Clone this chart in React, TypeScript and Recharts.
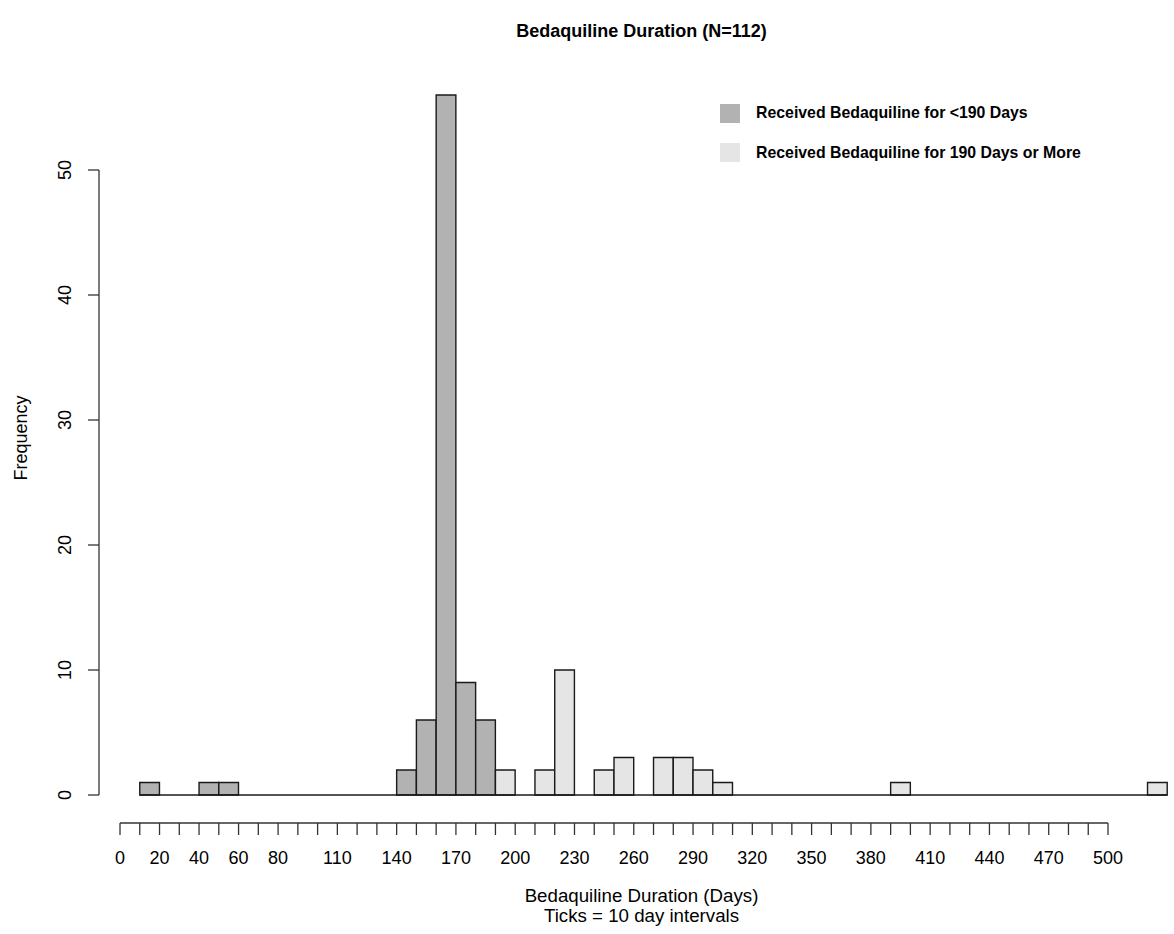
import React from 'react';
import { ComposedChart, Bar, Cell, XAxis, YAxis, ReferenceLine, Legend } from 'recharts';

// Histogram bins (start of each 10-day bin) and counts
const BIN_START = [
  10, 20, 30, 40, 50, 60, 70, 80, 90, 100, 110, 120, 130, 140, 150, 160, 170, 180, 190, 200,
  210, 220, 230, 240, 250, 260, 270, 280, 290, 300, 310, 320, 330, 340, 350, 360, 370, 380, 390, 400,
  410, 420, 430, 440, 450, 460, 470, 480, 490, 500, 510, 520,
];
const COUNTS = [
  1, 0, 0, 1, 1, 0, 0, 0, 0, 0, 0, 0, 0, 2, 6, 56, 9, 6, 2, 0,
  2, 10, 0, 2, 3, 0, 3, 3, 2, 1, 0, 0, 0, 0, 0, 0, 0, 0, 1, 0,
  0, 0, 0, 0, 0, 0, 0, 0, 0, 0, 0, 1,
];
const BIN_WIDTH = 10;
const THRESHOLD = 190;

const X_TICKS = [
  0, 10, 20, 30, 40, 50, 60, 70, 80, 90, 100, 110, 120, 130, 140, 150, 160, 170, 180, 190, 200,
  210, 220, 230, 240, 250, 260, 270, 280, 290, 300, 310, 320, 330, 340, 350, 360, 370, 380, 390, 400,
  410, 420, 430, 440, 450, 460, 470, 480, 490, 500,
];
const X_LABELS = [0, 20, 40, 60, 80, 110, 140, 170, 200, 230, 260, 290, 320, 350, 380, 410, 440, 470, 500];
const Y_TICKS = [0, 10, 20, 30, 40, 50];

const LEGEND_LABELS = ['Received Bedaquiline for <190 Days', 'Received Bedaquiline for 190 Days or More'];

const TITLE = 'Bedaquiline Duration (N=112)';
const X_TITLE_1 = 'Bedaquiline Duration (Days)';
const X_TITLE_2 = 'Ticks = 10 day intervals';
const Y_TITLE = 'Frequency';

// layout / style
const W = 1174;
const H = 934;
const X_DOMAIN: [number, number] = [-10.63, 533.4];
const Y_DOMAIN: [number, number] = [-2.24, 58.24];
const DARK = '#b2b2b2';
const LIGHT = '#e5e5e5';
const INK = '#1a1a1a';
const AXIS_INK = '#333';
const FONT = '"Liberation Sans", Arial, Helvetica, sans-serif';

const data = BIN_START.map((s, i) => ({ start: s, mid: s + BIN_WIDTH / 2, count: COUNTS[i] }));

const XTick = (props: any) => {
  const { x, payload } = props;
  if (!X_LABELS.includes(payload.value)) return <g />;
  return (
    <text x={x} y={858} textAnchor="middle" dominantBaseline="central" fontSize={18} fontFamily={FONT} fill="#000">
      {payload.value}
    </text>
  );
};

const YTick = (props: any) => {
  const { y, payload } = props;
  const lx = 64.5;
  return (
    <text
      x={lx}
      y={y}
      transform={`rotate(-90 ${lx} ${y})`}
      textAnchor="middle"
      dominantBaseline="central"
      fontSize={18}
      fontFamily={FONT}
      fill="#000"
    >
      {payload.value}
    </text>
  );
};

const LegendContent = () => (
  <div style={{ fontFamily: FONT }}>
    {LEGEND_LABELS.map((label, i) => (
      <div key={label} style={{ display: 'flex', alignItems: 'center', height: 20, marginBottom: i === 0 ? 19.5 : 0 }}>
        <span style={{ display: 'inline-block', width: 20, height: 19, background: i === 0 ? DARK : LIGHT }} />
        <span style={{ marginLeft: 16, fontWeight: 'bold', fontSize: 15.85, color: '#000', whiteSpace: 'nowrap' }}>{label}</span>
      </div>
    ))}
  </div>
);

export default function App() {
  return (
    <div style={{ position: 'absolute', left: 0, top: 0, width: W, height: H, background: '#fff', fontFamily: FONT }}>
      <ComposedChart width={W} height={H} data={data} margin={{ top: 67, right: 0, bottom: 0, left: 0 }}>
        <XAxis
          dataKey="mid"
          type="number"
          domain={X_DOMAIN}
          allowDataOverflow
          ticks={X_TICKS}
          interval={0}
          height={111}
          axisLine={false}
          tickLine={{ stroke: AXIS_INK, strokeWidth: 1.3 }}
          tickSize={12}
          tick={<XTick />}
        />
        <YAxis
          type="number"
          domain={Y_DOMAIN}
          allowDataOverflow
          ticks={Y_TICKS}
          interval={0}
          width={99}
          axisLine={false}
          tickLine={{ stroke: AXIS_INK, strokeWidth: 1.3 }}
          tickSize={11}
          tick={<YTick />}
        />
        <Bar dataKey="count" barSize={19.7} isAnimationActive={false} stroke={INK} strokeWidth={1.4} legendType="none">
          {data.map((d) => (
            <Cell key={d.start} fill={d.start < THRESHOLD ? DARK : LIGHT} />
          ))}
        </Bar>
        <ReferenceLine
          segment={[{ x: BIN_START[0], y: 0 }, { x: BIN_START[BIN_START.length - 1] + BIN_WIDTH, y: 0 }]}
          stroke={INK}
          strokeWidth={1.3}
          ifOverflow="visible"
        />
        <ReferenceLine
          segment={[{ x: X_TICKS[0], y: Y_DOMAIN[0] }, { x: X_TICKS[X_TICKS.length - 1], y: Y_DOMAIN[0] }]}
          stroke={AXIS_INK}
          strokeWidth={1.3}
          ifOverflow="visible"
        />
        <ReferenceLine
          segment={[{ x: X_DOMAIN[0], y: Y_TICKS[0] }, { x: X_DOMAIN[0], y: Y_TICKS[Y_TICKS.length - 1] }]}
          stroke={AXIS_INK}
          strokeWidth={1.3}
          ifOverflow="visible"
        />
        <Legend
          layout="vertical"
          align="center"
          verticalAlign="middle"
          content={<LegendContent />}
          wrapperStyle={{ position: 'absolute', left: 720, top: 103, width: 440, height: 60 }}
        />
        <text x={641.5} y={36.5} textAnchor="middle" fontWeight="bold" fontSize={18} fontFamily={FONT} fill="#000">
          {TITLE}
        </text>
        <text x={641.5} y={902} textAnchor="middle" fontSize={18.7} fontFamily={FONT} fill="#000">
          {X_TITLE_1}
        </text>
        <text x={641.5} y={921.5} textAnchor="middle" fontSize={18.7} fontFamily={FONT} fill="#000">
          {X_TITLE_2}
        </text>
        <text
          x={20.7}
          y={438}
          transform="rotate(-90 20.7 438)"
          textAnchor="middle"
          dominantBaseline="central"
          fontSize={18}
          fontFamily={FONT}
          fill="#000"
        >
          {Y_TITLE}
        </text>
      </ComposedChart>
    </div>
  );
}
